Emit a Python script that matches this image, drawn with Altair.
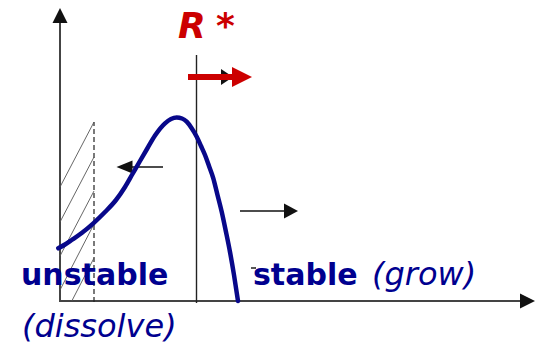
import altair as alt
import pandas as pd

# ---------------- data (schematic units: origin at axes corner) ----------------
curve_x = [-0.17, 0.5, 1.17, 2.17, 3.33, 4.5, 5.6, 6.5, 7.25, 8.0, 8.7, 9.5, 10.5, 11.1,
           11.67, 12.2, 12.67, 13.15, 13.67, 14.1, 14.5, 14.9, 15.33, 15.75, 16.17, 16.6,
           17.0, 17.4, 17.8]
curve_y = [5.27, 5.65, 6.1, 6.8, 7.77, 8.9, 10.1, 11.4, 12.7, 14.0, 15.2, 16.55, 17.77, 18.2,
           18.35, 18.25, 17.93, 17.3, 16.43, 15.5, 14.6, 13.5, 12.27, 10.6, 8.93, 6.9,
           4.9, 2.6, 0.0]

hatch_x1 = [0.0, 0.0, 0.0, 0.0, 1.18]
hatch_y1 = [11.4, 7.9, 4.5, 1.1, 0.0]
hatch_x2 = [3.4, 3.4, 3.4, 3.4, 3.4]
hatch_y2 = [17.9, 14.4, 11.0, 7.7, 4.3]

x_max, y_max = 47.5, 29.3
r_star = 13.65
r_star_top = 24.6
dissolve_edge = 3.4
dissolve_top = 17.9

# arrows: start x, end (tip) x, y
left_arrow = (10.3, 5.65, 13.4)
right_arrow = (18.0, 23.8, 9.0)
red_arrow = (12.8, 19.2, 22.4)
hidden_black_tip = (17.3, 22.4)
tick_mark = (19.1, 19.6, 3.3)

text_labels = ["unstable", "(dissolve)", "stable", "(grow)", "R", "*"]
text_x = [-3.9, -3.8, 19.3, 31.2, 11.8, 15.6]
text_y = [1.6, -3.6, 1.6, 1.6, 26.3, 26.3]

BLUE = "#00008f"
CURVE = "#08088a"
RED = "#cc0000"
AXIS = "#444444"

xs = alt.Scale(domain=[-5.2, 47.5], nice=False, zero=False)
ys = alt.Scale(domain=[-4.4, 29.3], nice=False, zero=False)


def seg_layer(x1, y1, x2, y2, **mark):
    df = pd.DataFrame({"x": x1, "y": y1, "x2": x2, "y2": y2})
    return alt.Chart(df).mark_rule(**mark).encode(
        x=alt.X("x:Q", scale=xs, axis=None),
        y=alt.Y("y:Q", scale=ys, axis=None),
        x2="x2:Q",
        y2="y2:Q",
    )


def head(x, y, direction, length, height, color):
    h = height / (2.0 * length)
    if direction == "right":
        path = f"M0,0L-1,{-h}L-1,{h}Z"
    elif direction == "left":
        path = f"M0,0L1,{-h}L1,{h}Z"
    else:  # up
        path = f"M0,0L{-h},1L{h},1Z"
    size = (2 * length) ** 2
    df = pd.DataFrame({"x": [x], "y": [y]})
    return alt.Chart(df).mark_point(
        shape=path, filled=True, size=size, color=color, opacity=1, strokeWidth=0
    ).encode(
        x=alt.X("x:Q", scale=xs, axis=None),
        y=alt.Y("y:Q", scale=ys, axis=None),
    )


layers = []
# axes
layers.append(seg_layer([0, 0], [-0.1, 0], [0, x_max - 1.0], [y_max - 1.0, 0],
                        color=AXIS, strokeWidth=2))
layers.append(head(0, y_max, "up", 15, 15, "#111111"))
layers.append(head(x_max, 0, "right", 15, 15, "#111111"))
# R* line
layers.append(seg_layer([r_star], [-0.2], [r_star], [r_star_top], color="#222222", strokeWidth=1.4))
# dashed boundary
layers.append(seg_layer([dissolve_edge], [-0.1], [dissolve_edge], [dissolve_top],
                        color="#222222", strokeWidth=1.2, strokeDash=[5, 3]))
# hatch
layers.append(seg_layer(hatch_x1, hatch_y1, hatch_x2, hatch_y2, color="#555555", strokeWidth=0.9))
# black arrows
layers.append(seg_layer([left_arrow[0], right_arrow[0], tick_mark[0]],
                        [left_arrow[2], right_arrow[2], tick_mark[2]],
                        [left_arrow[1] + 1.0, right_arrow[1] - 1.0, tick_mark[1]],
                        [left_arrow[2], right_arrow[2], tick_mark[2]],
                        color="#111111", strokeWidth=1.4))
layers.append(head(left_arrow[1], left_arrow[2], "left", 16, 13, "#111111"))
layers.append(head(right_arrow[1], right_arrow[2], "right", 14, 15, "#111111"))
layers.append(head(hidden_black_tip[0], hidden_black_tip[1], "right", 12, 16, "#111111"))

# curve
curve_df = pd.DataFrame({"x": curve_x, "y": curve_y})
layers.append(alt.Chart(curve_df).mark_line(
    color=CURVE, strokeWidth=4.5, interpolate="monotone", strokeCap="round"
).encode(
    x=alt.X("x:Q", scale=xs, axis=None),
    y=alt.Y("y:Q", scale=ys, axis=None),
))

# red arrow
layers.append(seg_layer([red_arrow[0]], [red_arrow[2]], [red_arrow[1] - 1.5], [red_arrow[2]],
                        color=RED, strokeWidth=6))
layers.append(head(red_arrow[1], red_arrow[2], "right", 20, 20, RED))

# texts
def text_layer(i, size, weight, style, color):
    df = pd.DataFrame({"x": [text_x[i]], "y": [text_y[i]], "t": [text_labels[i]]})
    return alt.Chart(df).mark_text(
        align="left", baseline="alphabetic", font="DejaVu Sans", fontSize=size,
        fontWeight=weight, fontStyle=style, color=color
    ).encode(
        x=alt.X("x:Q", scale=xs, axis=None),
        y=alt.Y("y:Q", scale=ys, axis=None),
        text="t:N",
    )

layers.append(text_layer(0, 30, "bold", "normal", BLUE))
layers.append(text_layer(1, 32, "normal", "italic", BLUE))
layers.append(text_layer(2, 30, "bold", "normal", BLUE))
layers.append(text_layer(3, 32, "normal", "italic", BLUE))
layers.append(text_layer(4, 36, "bold", "italic", RED))
layers.append(text_layer(5, 36, "bold", "italic", RED))

chart = alt.layer(*layers).properties(
    width=527, height=337, padding=0, background="white",
    autosize=alt.AutoSizeParams(type="none")
).configure_view(stroke=None)

chart.save("out.html", embed_options={"renderer": "svg", "actions": False})
